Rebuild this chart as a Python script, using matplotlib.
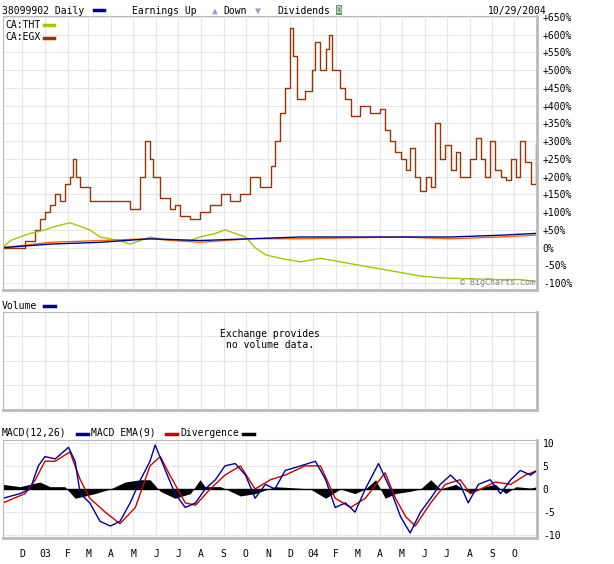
import matplotlib
matplotlib.use("Agg")
import matplotlib.pyplot as plt
import numpy as np
import pandas as pd

plt.rcParams["font.family"] = ["DejaVu Sans Mono"]
plt.rcParams["font.size"] = 7

# x = calendar days since start of chart
start = pd.Timestamp("2002-11-05")
end_day = 727

egx_days = [0, 23, 30, 44, 50, 57, 64, 71, 78, 84, 91, 95, 99, 105, 118, 132, 159, 173, 187, 193,
            200, 204, 214, 227, 234, 241, 255, 268, 282, 296, 309, 323, 336, 350, 364, 370, 377,
            384, 391, 395, 400, 411, 421, 425, 432, 439, 443, 448, 459, 466, 473, 486, 500, 513,
            520, 527, 534, 541, 548, 554, 561, 568, 575, 582, 588, 595, 602, 609, 616, 622, 636,
            643, 650, 656, 663, 670, 677, 684, 691, 698, 704, 711, 718, 725]
egx_pct = [0, 0, 20, 50, 80, 100, 120, 150, 130, 180, 200, 250, 200, 170, 130, 130, 130, 110, 200, 300,
           250, 200, 140, 110, 120, 90, 80, 100, 120, 150, 130, 150, 200, 170, 230, 300, 380,
           450, 620, 540, 420, 440, 500, 580, 500, 560, 600, 500, 450, 420, 370, 400, 380, 390,
           330, 300, 270, 250, 220, 280, 200, 160, 200, 170, 350, 250, 290, 220, 270, 200, 250,
           310, 250, 200, 300, 220, 200, 190, 250, 200, 300, 240, 180, 290]

tht_days = [0, 10, 23, 37, 57, 71, 91, 105, 118, 132, 159, 173, 187, 200, 227, 255, 268, 289, 302,
            316, 330, 343, 357, 377, 405, 432, 459, 486, 513, 541, 568, 595, 636, 677, 704, 725]
tht_pct = [0, 20, 30, 40, 50, 60, 70, 60, 50, 30, 20, 10, 20, 30, 20, 20, 30, 40, 50,
           40, 30, 0, -20, -30, -40, -30, -40, -50, -60, -70, -80, -85, -88, -90, -90, -95]

main_days = [0, 64, 132, 200, 268, 336, 405, 541, 609, 677, 725]
main_pct = [0, 10, 15, 25, 20, 25, 30, 30, 30, 35, 40]
idx_pct = [0, 15, 20, 25, 15, 25, 25, 30, 25, 30, 35]

macd_days = [0, 23, 37, 48, 57, 71, 89, 98, 105, 118, 132, 146, 159, 173, 187, 200, 207, 221, 234,
             248, 262, 275, 289, 302, 316, 330, 343, 357, 370, 384, 405, 425, 439, 452, 466, 479,
             493, 511, 527, 541, 554, 568, 582, 595, 609, 622, 633, 647, 663, 677, 691, 704, 718, 727]
macd = [-2, -1, 0, 5, 7, 6.5, 9, 6, -1, -3, -7, -8, -7, -3, 2, 6, 9.5, 4, -1,
        -4, -3, 0, 2, 5, 5.5, 3, -2, 1, 0, 4, 5, 6, 2, -4, -3, -5,
        0, 5.5, 0, -6, -9.5, -5, -2, 1, 3, 1, -3, 1, 2, -1, 2, 4, 3, 4]

sig_days = [0, 30, 44, 57, 71, 91, 105, 118, 139, 159, 180, 200, 214, 227, 248, 262, 282, 302, 323,
            343, 364, 384, 411, 432, 452, 473, 493, 520, 534, 548, 561, 582, 602, 622, 636, 650,
            670, 691, 711, 727]
sig = [-3, -1, 2, 6, 6, 8, 2, -2, -5, -7.5, -4, 5, 7, 3, -3, -3.5, 0, 3, 5,
       0, 2, 3, 5, 5, -2, -4, -2, 3.5, -2, -6, -8, -3, 1, 2, -1, 0,
       1.5, 1, 3, 4]

div_days = [0, 23, 50, 64, 84, 98, 112, 125, 146, 166, 187, 200, 214, 234, 255, 268, 275, 296, 323,
            343, 370, 391, 418, 439, 459, 479, 493, 507, 520, 534, 554, 568, 582, 595, 616, 636,
            656, 670, 684, 698, 718, 727]
div = [1, 0.5, 1.5, 0.5, 0.5, -2, -1.5, -1, 0, 1.5, 2, 2, -0.5, -2, -1, 2, 0.5, 0.5, -1.5,
       -1, 0.5, 0.3, 0, -2, 0, -1, 0, 2, -2, -1, -0.5, 0, 2, 0, 1, -1,
       0.5, 1, -1, 0.5, 0.2, 0.5]

month_starts = pd.date_range("2002-12-01", "2004-10-01", freq="MS")
month_pos = [(d - start).days for d in month_starts]
month_lbl = ["03" if d == pd.Timestamp("2003-01-01") else "04" if d == pd.Timestamp("2004-01-01")
             else d.strftime("%b")[0] for d in month_starts]

pct_ticks = list(range(-100, 651, 50))
pct_lbl = [f"{t:+d}%" if t else "0%" for t in pct_ticks]

grid_c = "#e6e6e6"
fig = plt.figure(figsize=(6.14, 5.64), dpi=100)


def style(ax):
    ax.set_xlim(0, end_day)
    ax.set_xticks(month_pos)
    ax.grid(True, color=grid_c, lw=0.8)
    ax.set_axisbelow(True)
    ax.yaxis.tick_right()
    ax.tick_params(length=0, labelsize=7, pad=4)
    for s in ax.spines.values():
        s.set_color("#bbbbbb")
    ax.spines["right"].set_linewidth(2)
    ax.spines["bottom"].set_linewidth(2)


ax1 = fig.add_axes([0.005, 0.486, 0.870, 0.486])
style(ax1)
ax1.set_ylim(-119, 653)
ax1.set_yticks(pct_ticks)
ax1.set_yticklabels(pct_lbl)
ax1.set_xticklabels([])
ax1.step(egx_days, egx_pct, where="post", color="#993300", lw=1)
ax1.plot(tht_days, tht_pct, color="#99cc00", lw=1)
ax1.plot(main_days, idx_pct, color="#ff6600", lw=1)
ax1.plot(main_days, main_pct, color="#000099", lw=1)
ax1.text(0.004, 0.985, "CA:THT", transform=ax1.transAxes, va="top", fontsize=7)
ax1.text(0.004, 0.94, "CA:EGX", transform=ax1.transAxes, va="top", fontsize=7)
ax1.plot([0.077, 0.095], [0.965, 0.965], color="#99cc00", lw=2.5, transform=ax1.transAxes)
ax1.plot([0.077, 0.095], [0.92, 0.92], color="#993300", lw=2.5, transform=ax1.transAxes)
ax1.text(0.995, 0.01, "© BigCharts.com", transform=ax1.transAxes, ha="right", va="bottom",
         fontsize=6, color="#888888")

fig.text(0.003, 0.99, "38099902 Daily", va="top", fontsize=7)
fig.add_artist(plt.Line2D([0.153, 0.170], [0.982, 0.982], color="#000099", lw=2.5))
fig.text(0.215, 0.99, "Earnings Up", va="top", fontsize=7)
fig.text(0.363, 0.99, "Down", va="top", fontsize=7)
fig.text(0.452, 0.99, "Dividends", va="top", fontsize=7)
fig.text(0.345, 0.99, "▲", va="top", fontsize=7, color="#9999cc")
fig.text(0.415, 0.99, "▼", va="top", fontsize=7, color="#9999cc")
fig.text(0.548, 0.99, "D", va="top", fontsize=6, color="white",
         bbox=dict(boxstyle="square,pad=0.1", fc="#669966", ec="none"))
fig.text(0.89, 0.99, "10/29/2004", va="top", ha="right", fontsize=7)

ax2 = fig.add_axes([0.005, 0.273, 0.870, 0.174])
style(ax2)
ax2.set_ylim(0, 1)
ax2.set_yticks([0.25, 0.5, 0.75])
ax2.set_yticklabels([])
ax2.set_xticklabels([])
ax2.text(0.5, 0.72, "Exchange provides\nno volume data.", transform=ax2.transAxes,
         ha="center", va="center", fontsize=7)
fig.text(0.003, 0.453, "Volume", fontsize=7)
fig.add_artist(plt.Line2D([0.072, 0.089], [0.4575, 0.4575], color="#000099", lw=2.5))

ax3 = fig.add_axes([0.005, 0.046, 0.870, 0.174])
style(ax3)
ax3.set_ylim(-10.6, 10.6)
ax3.set_yticks([-10, -5, 0, 5, 10])
ax3.set_yticklabels(["-10", "-5", "0", "5", "10"])
ax3.set_xticklabels(month_lbl)
ax3.tick_params(axis="x", pad=8)
ax3.fill_between(div_days, div, 0, color="black", lw=0)
ax3.axhline(0, color="black", lw=1)
ax3.plot(sig_days, sig, color="#cc0000", lw=1)
ax3.plot(macd_days, macd, color="#000099", lw=1)
fig.text(0.003, 0.227, "MACD(12,26)", fontsize=7)
fig.add_artist(plt.Line2D([0.125, 0.143], [0.231, 0.231], color="#000099", lw=2.5))
fig.text(0.148, 0.227, "MACD EMA(9)", fontsize=7)
fig.add_artist(plt.Line2D([0.270, 0.288], [0.231, 0.231], color="#cc0000", lw=2.5))
fig.text(0.293, 0.227, "Divergence", fontsize=7)
fig.add_artist(plt.Line2D([0.395, 0.413], [0.231, 0.231], color="black", lw=2.5))

fig.savefig("out.png", dpi=100)
